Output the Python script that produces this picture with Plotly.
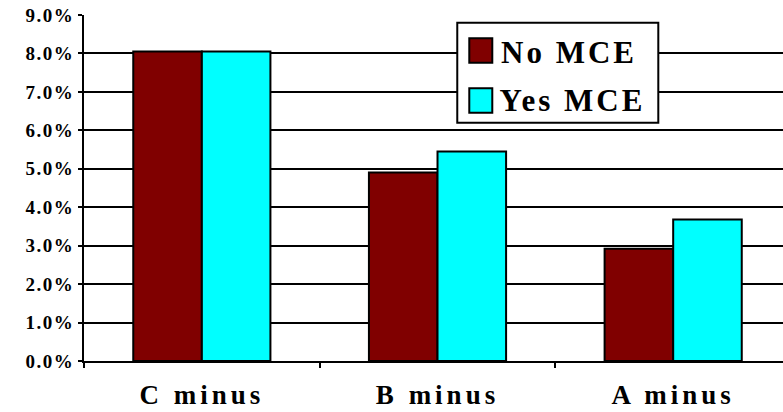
import plotly.graph_objects as go

categories = ["C minus", "B minus", "A minus"]
no_mce = [8.05, 4.9, 2.92]
yes_mce = [8.05, 5.45, 3.68]
series_names = ["No MCE", "Yes MCE"]
series_colors = ["#800000", "#00FFFF"]
y_ticks = [0, 1, 2, 3, 4, 5, 6, 7, 8, 9]
y_tick_labels = ["0.0%", "1.0%", "2.0%", "3.0%", "4.0%", "5.0%", "6.0%", "7.0%", "8.0%", "9.0%"]

FONT = "Liberation Serif, Times New Roman, Times, serif"

fig = go.Figure()
for name, vals, col in zip(series_names, [no_mce, yes_mce], series_colors):
    fig.add_trace(go.Bar(x=categories, y=vals, name=name, showlegend=False,
                         marker=dict(color=col, line=dict(color="black", width=2))))

# legend drawn as a boxed key (paper coordinates of the plot area)
shapes = [dict(type="rect", xref="paper", yref="paper", x0=0.534, x1=0.8216, y0=0.6887, y1=0.9777,
               line=dict(color="black", width=2), fillcolor="white", layer="above")]
annotations = []
rows = [(0.9327, 0.8621, 0.8916), (0.788, 0.7176, 0.7529)]
for (top, bot, mid), name, col in zip(rows, series_names, series_colors):
    shapes.append(dict(type="rect", xref="paper", yref="paper", x0=0.5512, x1=0.5841, y0=bot, y1=top,
                       line=dict(color="black", width=2), fillcolor=col, layer="above"))
    annotations.append(dict(xref="paper", yref="paper", x=0.606, y=mid, xanchor="left", yanchor="middle",
                            text=name, showarrow=False,
                            font=dict(family=FONT, size=31, color="black", weight="bold")))

fig.update_layout(
    template="none",
    width=783, height=412,
    margin=dict(l=84, r=0, t=15, b=51, autoexpand=False),
    paper_bgcolor="white", plot_bgcolor="white",
    barmode="group", bargap=0.418, bargroupgap=0,
    font=dict(family=FONT, color="black"),
    shapes=shapes, annotations=annotations,
    showlegend=False,
)
fig.update_xaxes(
    range=[-0.5, 2.466], automargin=False,
    showline=True, linecolor="black", linewidth=2,
    ticks="outside", tickson="boundaries", ticklen=5, tickcolor="black", tickwidth=2,
    ticklabelstandoff=9,
    tickfont=dict(family=FONT, size=27, color="black", weight="bold"),
    showgrid=False, zeroline=False,
)
fig.update_yaxes(
    range=[0, 9], tickvals=y_ticks, ticktext=y_tick_labels, automargin=False,
    showline=True, linecolor="black", linewidth=2,
    ticks="outside", ticklen=4, tickcolor="black", tickwidth=2,
    tickfont=dict(family=FONT, size=19, color="black", weight="bold"),
    showgrid=True, gridcolor="black", gridwidth=2,
    zeroline=False,
)

post = """
document.body.style.margin='0';
document.body.style.padding='0';
var gd = document.getElementById('{plot_id}');
gd.querySelectorAll('.xtick text').forEach(function(t){t.style.letterSpacing='4px';});
gd.querySelectorAll('.ytick text').forEach(function(t){t.style.letterSpacing='1.5px';});
gd.querySelectorAll('.annotation-text').forEach(function(t){t.style.letterSpacing='3px';});
"""
fig.write_html("out.html", post_script=post, config={"displayModeBar": False})
